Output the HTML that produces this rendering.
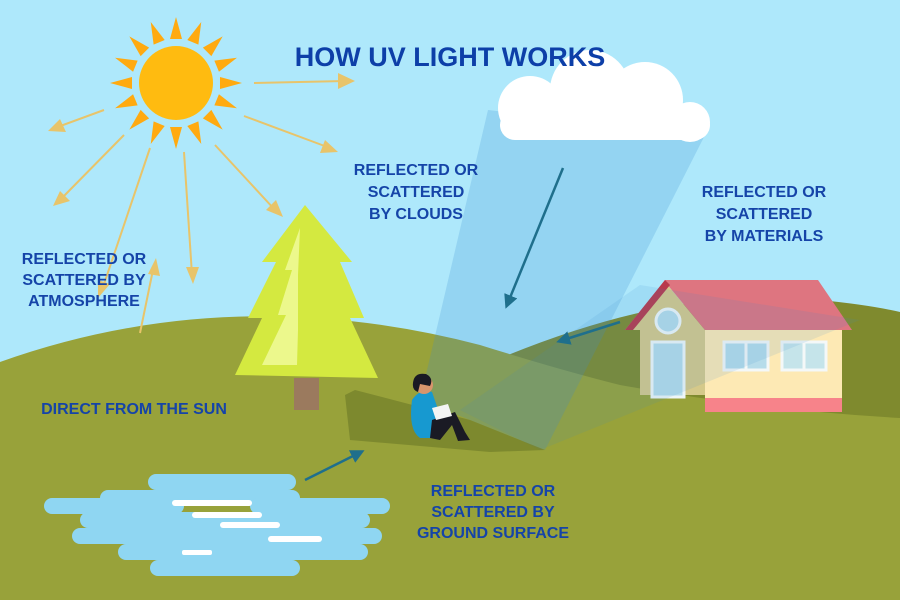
<!DOCTYPE html>
<html><head><style>
body{margin:0;width:900px;height:600px;overflow:hidden;background:#aee8fb}
svg{display:block}
text{font-family:"Liberation Sans",sans-serif;font-weight:bold;fill:#1544a8}
</style></head><body>
<svg width="900" height="600" viewBox="0 0 900 600">
<rect width="900" height="600" fill="#aee8fb"/>
<path d="M420 395 Q 650 280 820 300 Q 870 305 900 312 L900 600 L420 600Z" fill="#7f8a2e"/>
<path d="M0 362 Q 230 280 480 345 Q 560 370 620 385 Q 760 410 900 418 L900 600 L0 600Z" fill="#98a23a"/>
<polygon points="665,282 625,330 640,330 640,395 705,395 705,330" fill="#d5c98a"/>
<rect x="705" y="330" width="137" height="70" fill="#fde9b4"/>
<rect x="705" y="398" width="137" height="14" fill="#f7838a"/>
<polygon points="625,330 665,280 818,280 852,330 705,330 666,283" fill="#de7580"/>
<polygon points="625,330 665,280 670,285 633,330" fill="#b83a4c"/>
<circle cx="668" cy="321" r="12" fill="#b6dcea" stroke="#eef6f8" stroke-width="3"/>
<rect x="652" y="342" width="32" height="55" fill="#b6dcea" stroke="#eef6f8" stroke-width="3"/>
<rect x="724" y="342" width="44" height="28" fill="#b6dcea" stroke="#f4f8f8" stroke-width="3"/>
<line x1="746" y1="342" x2="746" y2="370" stroke="#f4f8f8" stroke-width="3"/>
<rect x="782" y="342" width="44" height="28" fill="#c5e4ea" stroke="#f4f8f8" stroke-width="3"/>
<line x1="804" y1="342" x2="804" y2="370" stroke="#f4f8f8" stroke-width="3"/>
<polygon points="488,110 705,135 545,450 420,400" fill="#3a8fd0" opacity="0.22"/>
<polygon points="640,285 860,320 540,450 460,410" fill="#3a8fd0" opacity="0.12"/>
<polygon points="345,395 355,390 470,420 545,450 490,452 350,440" fill="#5e6a22" opacity="0.45"/>
<g fill="#fff">
<circle cx="530" cy="108" r="32"/><circle cx="590" cy="90" r="40"/><circle cx="645" cy="100" r="38"/><circle cx="690" cy="122" r="20"/>
<rect x="500" y="110" width="210" height="30" rx="15"/>
</g>
<g transform="translate(176,83)" fill="#ffaa10">
<circle r="37" fill="#ffbb10"/>
<g id="r"><polygon points="-6,-44 6,-44 0,-66"/></g>
<use href="#r" transform="rotate(22.5)"/><use href="#r" transform="rotate(45)"/><use href="#r" transform="rotate(67.5)"/>
<use href="#r" transform="rotate(90)"/><use href="#r" transform="rotate(112.5)"/><use href="#r" transform="rotate(135)"/>
<use href="#r" transform="rotate(157.5)"/><use href="#r" transform="rotate(180)"/><use href="#r" transform="rotate(202.5)"/>
<use href="#r" transform="rotate(225)"/><use href="#r" transform="rotate(247.5)"/><use href="#r" transform="rotate(270)"/>
<use href="#r" transform="rotate(292.5)"/><use href="#r" transform="rotate(315)"/><use href="#r" transform="rotate(337.5)"/>
</g>
<defs>
<marker id="ba" markerWidth="14" markerHeight="14" refX="10" refY="7" orient="auto" markerUnits="userSpaceOnUse" viewBox="0 0 14 14"><polygon points="0,0 14,7 0,14" fill="#1f6f8c"/></marker>
</defs>
<g stroke="#e8c46a" stroke-width="2" fill="none">
<line x1="254" y1="83" x2="345" y2="81"/>
<line x1="104" y1="110" x2="55" y2="128"/>
<line x1="124" y1="135" x2="60" y2="200"/>
<line x1="150" y1="148" x2="102" y2="290"/>
<line x1="184" y1="152" x2="192" y2="275"/>
<line x1="215" y1="145" x2="275" y2="210"/>
<line x1="244" y1="116" x2="330" y2="148"/>
<line x1="140" y1="333" x2="154" y2="265"/>
</g>
<g fill="#e8c46a">
<polygon points="355,81 338,73 338,89"/>
<polygon points="48,131 66,132 60,119"/>
<polygon points="53,206 70,201 60,191"/>
<polygon points="98,298 98,280 110,284"/>
<polygon points="193,284 186,267 199,267"/>
<polygon points="283,217 266,210 276,200"/>
<polygon points="338,152 320,153 325,140"/>
<polygon points="156,258 148,274 160,276"/>
</g>
<g stroke="#1f6f8c" stroke-width="2.5" marker-end="url(#ba)">
<line x1="563" y1="168" x2="507" y2="305"/>
<line x1="620" y1="322" x2="560" y2="341"/>
<line x1="305" y1="480" x2="361" y2="452"/>
</g>
<rect x="294" y="378" width="25" height="32" fill="#9b7a5e"/>
<polygon points="305,205 262,262 276,262 248,318 262,318 235,375 378,378 350,318 364,318 340,262 352,262" fill="#d4e940"/>
<polygon points="300,228 285,270 292,270 278,315 286,315 262,365 297,365 298,330 298,275" fill="#ecf88c"/>
<path d="M412 400 Q 420 388 432 392 L440 415 L440 438 L420 438 Q 408 430 412 400Z" fill="#1799d0"/>
<circle cx="424" cy="385" r="9" fill="#d8956c"/>
<path d="M413 383 Q 414 372 426 374 Q 434 378 430 386 L420 384 L418 392 Q 412 390 413 383Z" fill="#1a1a24"/>
<path d="M432 420 L455 412 L465 432 L470 440 L458 441 L452 425 L440 440 L430 438Z" fill="#1a1a24"/>
<polygon points="432,408 448,404 452,416 436,420" fill="#f4f4f4"/>
<g fill="#8fd6f2">
<rect x="148" y="474" width="148" height="16" rx="8"/>
<rect x="100" y="490" width="200" height="16" rx="8"/>
<rect x="44" y="498" width="140" height="16" rx="8"/>
<rect x="80" y="512" width="290" height="16" rx="8"/>
<rect x="250" y="498" width="140" height="16" rx="8"/>
<rect x="72" y="528" width="310" height="16" rx="8"/>
<rect x="118" y="544" width="250" height="16" rx="8"/>
<rect x="150" y="560" width="150" height="16" rx="8"/>
</g>
<g fill="#fff">
<rect x="172" y="500" width="80" height="6" rx="3"/>
<rect x="192" y="512" width="70" height="6" rx="3"/>
<rect x="220" y="522" width="60" height="6" rx="3"/>
<rect x="268" y="536" width="54" height="6" rx="3"/>
<rect x="182" y="550" width="30" height="5" rx="2"/>
</g>
<text x="450" y="66" font-size="27" text-anchor="middle" style="fill:#0d3fa8">HOW UV LIGHT WORKS</text>
<g font-size="16" text-anchor="middle">
<text x="416" y="175">REFLECTED OR</text><text x="416" y="197">SCATTERED</text><text x="416" y="219">BY CLOUDS</text>
<text x="764" y="197">REFLECTED OR</text><text x="764" y="219">SCATTERED</text><text x="764" y="241">BY MATERIALS</text>
<text x="84" y="264">REFLECTED OR</text><text x="84" y="285">SCATTERED BY</text><text x="84" y="306">ATMOSPHERE</text>
<text x="134" y="414">DIRECT FROM THE SUN</text>
<text x="493" y="496">REFLECTED OR</text><text x="493" y="517">SCATTERED BY</text><text x="493" y="538">GROUND SURFACE</text>
</g>
</svg>
</body></html>
